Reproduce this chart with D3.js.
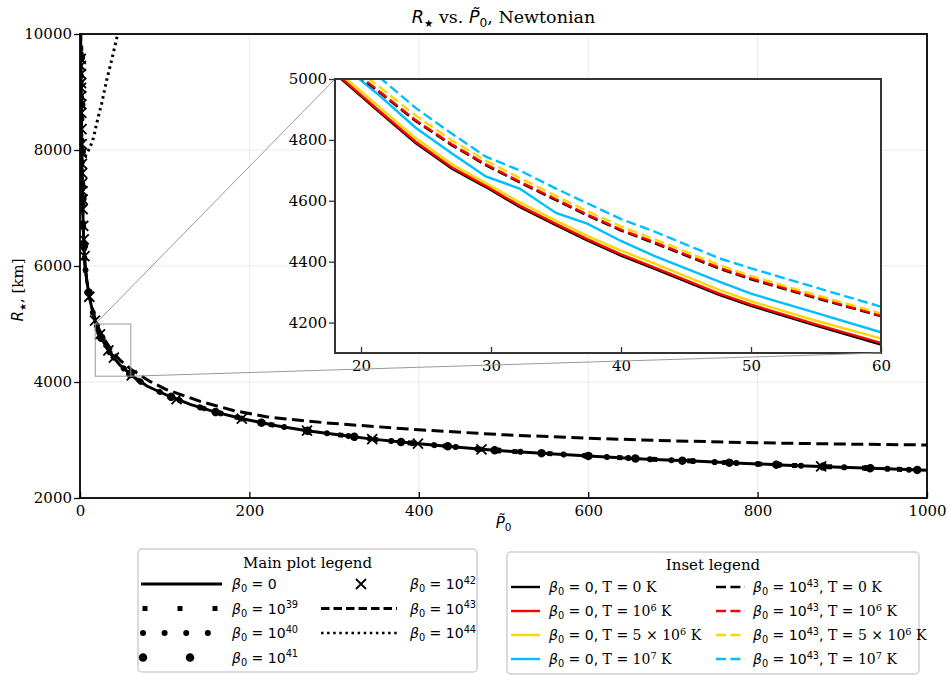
<!DOCTYPE html>
<html>
<head>
<meta charset="utf-8">
<script src="https://cdnjs.cloudflare.com/ajax/libs/d3/7.8.5/d3.min.js"></script>
<style>
  body { margin: 0; background: #fff; }
</style>
</head>
<body>
<svg id="chart" width="948" height="675"></svg>
<script>
// ---- main plot data (P0 tilde vs R_star in km) ----
var pMain = [0.6, 1, 1.5, 2, 3, 4, 5, 6, 8, 11, 15.7, 19.7, 25.6, 35.4, 47, 63, 79, 102, 130, 161, 193, 232, 268, 300, 345, 400, 474, 506, 560, 616, 670, 724, 780, 834, 890, 944, 1000];
var rBeta0 = [10400, 9500, 8700, 8000, 7100, 6600, 6250, 6000, 5750, 5470, 5160, 4955, 4745, 4500, 4293, 4092, 3931, 3776, 3615, 3477, 3362, 3246, 3160, 3100, 3015, 2935, 2840, 2808, 2760, 2712, 2670, 2636, 2600, 2566, 2536, 2507, 2478];
var rBeta39 = [10400, 9500, 8700, 8000, 7100, 6600, 6250, 6000, 5750, 5470, 5160, 4955, 4745, 4500, 4293, 4092, 3931, 3776, 3615, 3477, 3362, 3246, 3160, 3100, 3015, 2935, 2840, 2808, 2760, 2712, 2670, 2636, 2600, 2566, 2536, 2507, 2478];
var rBeta40 = [10400, 9500, 8700, 8000, 7100, 6600, 6250, 6000, 5750, 5470, 5160, 4955, 4745, 4500, 4293, 4092, 3931, 3776, 3615, 3477, 3362, 3246, 3160, 3100, 3015, 2935, 2840, 2808, 2760, 2712, 2670, 2636, 2600, 2566, 2536, 2507, 2478];
var rBeta41 = [10400, 9500, 8700, 8000, 7100, 6600, 6250, 6000, 5750, 5470, 5160, 4955, 4745, 4500, 4293, 4092, 3931, 3776, 3615, 3477, 3362, 3246, 3160, 3100, 3015, 2935, 2840, 2808, 2760, 2712, 2670, 2636, 2600, 2566, 2536, 2507, 2478];

// beta0 = 1e42 is drawn with x markers only
var p42 = [0.97, 1.03, 1.12, 1.22, 1.27, 1.36, 1.44, 1.54, 1.74, 1.93, 2.05, 2.27, 2.45, 2.63, 2.79, 2.94, 3.24, 3.82, 4.4, 5.3, 11, 17.7, 23.6, 33.5, 40, 61, 114, 191, 268, 345, 399, 474, 875];
var r42 = [9570, 9450, 9310, 9155, 9070, 8930, 8790, 8640, 8360, 8100, 7950, 7760, 7600, 7430, 7290, 7150, 6980, 6690, 6460, 6170, 5470, 5060, 4820, 4545, 4420, 4115, 3705, 3368, 3160, 3015, 2936, 2840, 2545];

var p43 = [0.6, 1, 1.5, 2, 3, 4, 5, 6, 8, 11, 15.7, 20, 25, 30, 35, 40, 47, 60, 82.6, 102, 142, 181, 220, 259, 295, 400, 500, 601, 700, 797, 900, 1000];
var r43 = [10400, 9500, 8700, 8000, 7100, 6600, 6250, 6000, 5750, 5480, 5200, 4990, 4830, 4710, 4595, 4500, 4380, 4221, 4010, 3870, 3665, 3510, 3400, 3340, 3290, 3175, 3090, 3030, 2985, 2953, 2930, 2914];

var p44 = [1.5, 2.5, 4, 5.9, 8, 11.8, 15.7, 19.7, 25.6, 31.5, 37.4, 43.3, 47];
var r44 = [8700, 7990, 7890, 7885, 7945, 8040, 8201, 8459, 8804, 9206, 9551, 9925, 10150];

// ---- inset data ----
var pInset = [17, 21.3, 24.2, 27, 29.6, 32.2, 35, 37.4, 40, 42.5, 47.5, 50, 55, 60];
var rB0T0 = [5055, 4895, 4790, 4705, 4645, 4580, 4520, 4470, 4420, 4378, 4292, 4255, 4190, 4128];
var rB0T6 = [5058, 4899, 4794, 4709, 4649, 4584, 4524, 4474, 4424, 4382, 4296, 4259, 4194, 4133];
var rB0T5e6 = [5068, 4912, 4806, 4720, 4658, 4595, 4535, 4485, 4436, 4395, 4308, 4270, 4206, 4148];
var rB0T7 = [5100, 4950, 4840, 4755, 4680, 4640, 4560, 4525, 4468, 4420, 4335, 4295, 4232, 4168];
var rB43T0 = [5105, 4960, 4862, 4782, 4717, 4660, 4602, 4552, 4502, 4462, 4378, 4342, 4280, 4221];
var rB43T6 = [5108, 4963, 4865, 4785, 4720, 4663, 4605, 4555, 4505, 4465, 4381, 4345, 4283, 4223];
var rB43T5e6 = [5120, 4978, 4880, 4798, 4732, 4675, 4616, 4566, 4516, 4475, 4390, 4353, 4290, 4230];
var rB43T7 = [5150, 5010, 4905, 4820, 4745, 4700, 4640, 4592, 4540, 4500, 4412, 4378, 4315, 4252];

var xTicks = [0, 200, 400, 600, 800, 1000];
var yTicks = [2000, 4000, 6000, 8000, 10000];
var xTicksInset = [20, 30, 40, 50, 60];
var yTicksInset = [4200, 4400, 4600, 4800, 5000];

var SERIF = "'DejaVu Serif', serif";
var SANS = "'DejaVu Sans', sans-serif";

var svg = d3.select("#chart");
svg.append("rect").attr("width", 948).attr("height", 675).attr("fill", "#fff");

var x = d3.scaleLinear().domain([0, 1000]).range([80, 927]);
var y = d3.scaleLinear().domain([2000, 10000]).range([498, 34]);

var xi = d3.scaleLinear().domain([18, 60]).range([335, 881]);
var yi = d3.scaleLinear().domain([4100, 5000]).range([353, 79]);

// rich text: parts are [text, kind], kind: i (math italic), r (math roman), s (serif), sub, sup, ssup (serif sup), star
function rich(sel, px, py, parts, size, anchor) {
  var t = sel.append("text")
    .attr("x", px).attr("y", py)
    .attr("font-size", size)
    .attr("text-anchor", anchor || "start")
    .attr("fill", "#000");
  var shift = 0;
  parts.forEach(function(p) {
    var kind = p[1];
    var target = 0;
    if (kind === "sub" || kind === "star") target = size * 0.22;
    if (kind === "sup" || kind === "ssup") target = -size * 0.38;
    var ts = t.append("tspan").attr("dy", target - shift).text(p[0]);
    shift = target;
    if (kind === "i") ts.attr("font-family", SANS).attr("font-style", "italic");
    else if (kind === "r") ts.attr("font-family", SANS);
    else if (kind === "s") ts.attr("font-family", SERIF);
    else if (kind === "sub" || kind === "sup") ts.attr("font-family", SANS).attr("font-size", size * 0.7);
    else if (kind === "ssup") ts.attr("font-family", SERIF).attr("font-size", size * 0.7);
    else if (kind === "star") ts.attr("font-family", SANS).attr("font-size", size * 0.6);
  });
  return t;
}

// clip paths
var defs = svg.append("defs");
defs.append("clipPath").attr("id", "clipMain").append("rect")
  .attr("x", 80).attr("y", 34).attr("width", 847).attr("height", 464);
defs.append("clipPath").attr("id", "clipInset").append("rect")
  .attr("x", 335).attr("y", 79).attr("width", 546).attr("height", 274);

// grid
var grid = svg.append("g");
grid.selectAll(".gx").data(xTicks).enter().append("line")
  .attr("x1", function(d) { return x(d); }).attr("x2", function(d) { return x(d); })
  .attr("y1", 34).attr("y2", 498)
  .attr("stroke", "#ebebeb").attr("stroke-width", 1);
grid.selectAll(".gy").data(yTicks).enter().append("line")
  .attr("y1", function(d) { return y(d); }).attr("y2", function(d) { return y(d); })
  .attr("x1", 80).attr("x2", 927)
  .attr("stroke", "#ebebeb").attr("stroke-width", 1);

// main curves
var plot = svg.append("g").attr("clip-path", "url(#clipMain)");

function curve(px, ry) {
  return d3.line()
    .x(function(d, i) { return x(px[i]); })
    .y(function(d, i) { return y(ry[i]); })(px);
}

plot.append("path").attr("d", curve(pMain, rBeta0))
  .attr("fill", "none").attr("stroke", "#000").attr("stroke-width", 3);
plot.append("path").attr("d", curve(pMain, rBeta39))
  .attr("fill", "none").attr("stroke", "#000").attr("stroke-width", 5)
  .attr("stroke-dasharray", "5 30");
plot.append("path").attr("d", curve(pMain, rBeta40))
  .attr("fill", "none").attr("stroke", "#000").attr("stroke-width", 6)
  .attr("stroke-linecap", "round").attr("stroke-dasharray", "0.01 21.6");
plot.append("path").attr("d", curve(pMain, rBeta41))
  .attr("fill", "none").attr("stroke", "#000").attr("stroke-width", 8.5)
  .attr("stroke-linecap", "round").attr("stroke-dasharray", "0.01 47");
plot.append("path").attr("d", curve(p43, r43))
  .attr("fill", "none").attr("stroke", "#000").attr("stroke-width", 3)
  .attr("stroke-dasharray", "12 5.5");
plot.append("path").attr("d", curve(p44, r44))
  .attr("fill", "none").attr("stroke", "#000").attr("stroke-width", 3)
  .attr("stroke-dasharray", "2.5 3.6");

var xMark = "M-5,-5L5,5M-5,5L5,-5";
plot.selectAll(".m42").data(p42).enter().append("path")
  .attr("d", xMark)
  .attr("transform", function(d, i) { return "translate(" + x(d) + "," + y(r42[i]) + ")"; })
  .attr("stroke", "#000").attr("stroke-width", 1.8).attr("fill", "none");

// axes
var fmt = d3.format("d");
var xAxis = d3.axisBottom(x).tickValues(xTicks).tickFormat(fmt).tickSizeInner(-6).tickSizeOuter(0).tickPadding(7);
var yAxis = d3.axisLeft(y).tickValues(yTicks).tickFormat(fmt).tickSizeInner(6).tickSizeOuter(0).tickPadding(2);

function styleAxis(g, col) {
  g.select(".domain").remove();
  g.attr("font-family", null).attr("font-size", null);
  g.selectAll("line").attr("stroke", col).attr("stroke-width", 1.3);
  g.selectAll("text").attr("fill", "#000")
    .style("font-family", SERIF).style("font-size", "15px");
}
svg.append("g").attr("transform", "translate(0,498)").call(xAxis).call(styleAxis, "#000");
svg.append("g").attr("transform", "translate(80,0)").call(yAxis).call(styleAxis, "#000");

svg.append("rect").attr("x", 80).attr("y", 34).attr("width", 847).attr("height", 464)
  .attr("fill", "none").attr("stroke", "#000").attr("stroke-width", 1.8);

// zoom indicator and connectors
svg.append("rect")
  .attr("x", x(18)).attr("y", y(5000))
  .attr("width", x(60) - x(18)).attr("height", y(4100) - y(5000))
  .attr("fill", "none").attr("stroke", "#999").attr("stroke-width", 1);
svg.append("line")
  .attr("x1", x(18)).attr("y1", y(5000)).attr("x2", xi(18)).attr("y2", yi(5000))
  .attr("stroke", "#999").attr("stroke-width", 1);

// inset
var inset = svg.append("g");
inset.append("rect").attr("x", 335).attr("y", 79).attr("width", 546).attr("height", 274).attr("fill", "#fff");

var insetSeries = [
  { r: rB0T0, color: "#000000", dash: null },
  { r: rB0T6, color: "#ff0000", dash: null },
  { r: rB0T5e6, color: "#ffd700", dash: null },
  { r: rB0T7, color: "#00bfff", dash: null },
  { r: rB43T0, color: "#000000", dash: "10 4.4" },
  { r: rB43T6, color: "#ff0000", dash: "10 4.4" },
  { r: rB43T5e6, color: "#ffd700", dash: "10 4.4" },
  { r: rB43T7, color: "#00bfff", dash: "10 4.4" }
];

var insetLine = function(ry) {
  return d3.line()
    .x(function(d, i) { return xi(pInset[i]); })
    .y(function(d, i) { return yi(ry[i]); })(pInset);
};

var inPlot = inset.append("g").attr("clip-path", "url(#clipInset)");
insetSeries.forEach(function(s) {
  inPlot.append("path").attr("d", insetLine(s.r))
    .attr("fill", "none").attr("stroke", s.color).attr("stroke-width", 2.4)
    .attr("stroke-dasharray", s.dash);
});

var xAxisI = d3.axisBottom(xi).tickValues(xTicksInset).tickFormat(fmt).tickSizeInner(-6).tickSizeOuter(0).tickPadding(7);
var yAxisI = d3.axisLeft(yi).tickValues(yTicksInset).tickFormat(fmt).tickSizeInner(6).tickSizeOuter(0).tickPadding(2);
inset.append("g").attr("transform", "translate(0,353)").call(xAxisI).call(styleAxis, "#333");
inset.append("g").attr("transform", "translate(335,0)").call(yAxisI).call(styleAxis, "#333");
inset.append("rect").attr("x", 335).attr("y", 79).attr("width", 546).attr("height", 274)
  .attr("fill", "none").attr("stroke", "#333").attr("stroke-width", 2);

svg.append("line")
  .attr("x1", x(60)).attr("y1", y(4100)).attr("x2", xi(60)).attr("y2", yi(4100))
  .attr("stroke", "#999").attr("stroke-width", 1);

// titles and labels
rich(svg, 503.5, 23, [["R", "i"], ["\u2605", "star"], [" vs. ", "s"], ["P\u0303", "i"], ["0", "sub"], [", Newtonian", "s"]], 17.5, "middle");
rich(svg, 503.5, 528, [["P\u0303", "i"], ["0", "sub"]], 15, "middle");
var yl = rich(svg, 0, 0, [["R", "i"], ["\u2605", "star"], [", [km]", "s"]], 15, "middle");
yl.attr("transform", "translate(23,290) rotate(-90)");

// main legend
var lg = svg.append("g");
lg.append("rect").attr("x", 138).attr("y", 549).attr("width", 339).attr("height", 123)
  .attr("rx", 4).attr("fill", "#fff").attr("stroke", "#d0d0d0").attr("stroke-width", 1.5);
rich(lg, 307.5, 568, [["Main plot legend", "s"]], 15, "middle");

var mainLegend = [
  { col: 0, row: 0, label: "0", w: 3, dash: null, cap: "butt" },
  { col: 0, row: 1, label: "39", w: 5, dash: "5 30", cap: "butt", x0: 142.5 },
  { col: 0, row: 2, label: "40", w: 6, dash: "0.01 21.6", cap: "round", x0: 143 },
  { col: 0, row: 3, label: "41", w: 8.5, dash: "0.01 47", cap: "round", x0: 143 },
  { col: 1, row: 0, label: "42", marker: true },
  { col: 1, row: 1, label: "43", w: 3, dash: "8.5 4", cap: "butt" },
  { col: 1, row: 2, label: "44", w: 2.5, dash: "2.5 3.6", cap: "butt" }
];
mainLegend.forEach(function(d) {
  var cy = 584 + d.row * 24.5;
  var hx0 = d.col === 0 ? (d.x0 || 141) : 321;
  var hx1 = d.col === 0 ? 222 : 397;
  var lx = d.col === 0 ? 232 : 410;
  if (d.marker) {
    lg.append("path").attr("d", xMark).attr("transform", "translate(361," + cy + ")")
      .attr("stroke", "#000").attr("stroke-width", 1.8);
  } else {
    lg.append("line").attr("x1", hx0).attr("x2", hx1).attr("y1", cy).attr("y2", cy)
      .attr("stroke", "#000").attr("stroke-width", d.w)
      .attr("stroke-linecap", d.cap).attr("stroke-dasharray", d.dash);
  }
  var parts = d.label === "0"
    ? [["\u03B2", "i"], ["0", "sub"], [" = 0", "r"]]
    : [["\u03B2", "i"], ["0", "sub"], [" = 10", "r"], [d.label, "sup"]];
  rich(lg, lx, cy + 5, parts, 14, "start");
});

// inset legend
var lg2 = svg.append("g");
lg2.append("rect").attr("x", 507).attr("y", 552).attr("width", 412).attr("height", 122)
  .attr("rx", 4).attr("fill", "#fff").attr("stroke", "#d0d0d0").attr("stroke-width", 1.5);
rich(lg2, 713, 570, [["Inset legend", "s"]], 15, "middle");

var tempParts = [
  [[" T = 0 K", "s"]],
  [[" T = 10", "s"], ["6", "ssup"], [" K", "s"]],
  [[" T = 5 \u00D7 10", "s"], ["6", "ssup"], [" K", "s"]],
  [[" T = 10", "s"], ["7", "ssup"], [" K", "s"]]
];
insetSeries.forEach(function(s, k) {
  var col = k < 4 ? 0 : 1;
  var row = k % 4;
  var cy = 587 + row * 24;
  var hx0 = col === 0 ? 511 : 716;
  var lx = col === 0 ? 549 : 753;
  lg2.append("line").attr("x1", hx0).attr("x2", hx0 + 29).attr("y1", cy).attr("y2", cy)
    .attr("stroke", s.color).attr("stroke-width", 2.4).attr("stroke-dasharray", s.dash);
  var head = col === 0
    ? [["\u03B2", "i"], ["0", "sub"], [" = 0,", "r"]]
    : [["\u03B2", "i"], ["0", "sub"], [" = 10", "r"], ["43", "sup"], [",", "r"]];
  rich(lg2, lx, cy + 5, head.concat(tempParts[row]), 14, "start");
});
</script>
</body>
</html>
